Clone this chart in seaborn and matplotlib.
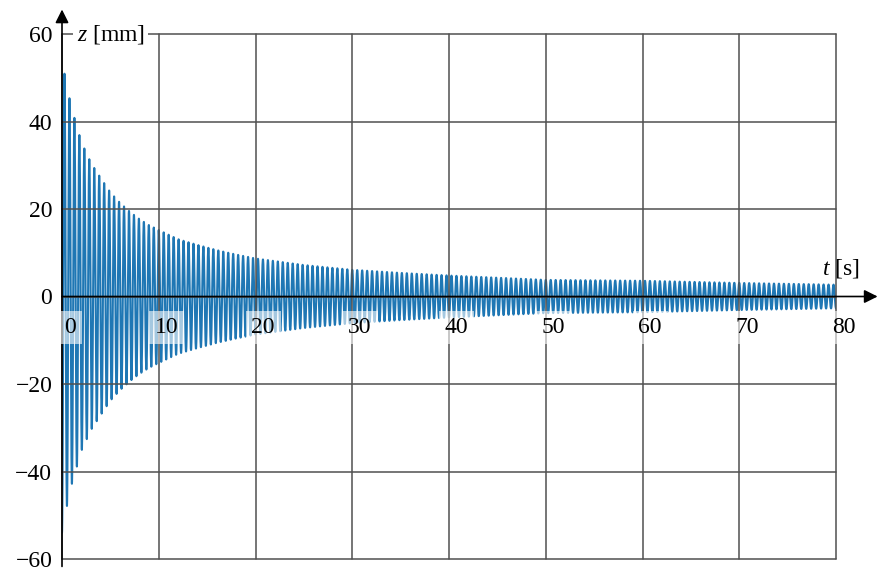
import matplotlib
matplotlib.use("Agg")
import matplotlib.pyplot as plt
import numpy as np
import pandas as pd
import seaborn as sns

# envelope of the damped oscillation
env_t = [0, 0.5, 1, 2, 3, 4, 5, 6, 7, 8, 9, 10, 12, 14, 16, 18, 20,
         25, 30, 35, 40, 50, 60, 70, 80]
env_a = [54, 48, 43, 35.3, 30.5, 27.1, 23.8, 21.4, 19.4, 17.7, 16.3, 15.2,
         13.1, 11.8, 10.6, 9.6, 8.7, 7.2, 6.1, 5.4, 4.8, 3.8, 3.6, 3.1, 2.7]
freq_hz = 1.95  # about 19.5 peaks per 10 s
x_ticks = [0, 10, 20, 30, 40, 50, 60, 70, 80]
y_ticks = [-60, -40, -20, 0, 20, 40, 60]

t = np.linspace(0, 80, 24000)
amp = np.interp(t, env_t, env_a)
data = pd.DataFrame({"t": t, "z": -amp * np.cos(2 * np.pi * freq_hz * t)})

sns.set_theme(style="white")
plt.rcParams["font.family"] = ["Liberation Serif", "DejaVu Serif"]
plt.rcParams["mathtext.fontset"] = "custom"
plt.rcParams["mathtext.rm"] = "Liberation Serif"
plt.rcParams["mathtext.it"] = "Liberation Serif:italic"
plt.rcParams["text.color"] = "black"
plt.rcParams["ytick.labelcolor"] = "black"

fig = plt.figure(figsize=(8.77, 5.72), dpi=100)
ax = fig.add_axes([62 / 877, 13 / 572, 774 / 877, 525 / 572])

sns.lineplot(data=data, x="t", y="z", ax=ax, estimator=None, sort=False,
             color="#1f77b4", lw=1.5, zorder=2)

ax.set_xlim(0, 80)
ax.set_ylim(-60, 60)
ax.set_xlabel("")
ax.set_ylabel("")
for s in ax.spines.values():
    s.set_visible(False)

# grid on top of the curve
ax.set_axisbelow(False)
ax.set_xticks(x_ticks)
ax.set_yticks(y_ticks)
ax.grid(True, color="#505050", lw=1.1, zorder=3)
for gl in ax.get_xgridlines() + ax.get_ygridlines():
    gl.set_clip_on(False)
ax.tick_params(axis="x", length=0, labelbottom=False)
ax.tick_params(axis="y", direction="inout", length=10, width=1,
               color="#444444", labelsize=17, pad=2, labelcolor="black")
ax.set_yticklabels(["\u221260", "\u221240", "\u221220", "0", "20", "40", "60"])

# axes with arrows
ax.annotate("", xy=(84.3, 0), xytext=(0, 0), annotation_clip=False,
            arrowprops=dict(arrowstyle="-|>", color="black", lw=1.2,
                            mutation_scale=20, shrinkA=0, shrinkB=0), zorder=5)
ax.annotate("", xy=(0, 65.6), xytext=(0, -61.7), annotation_clip=False,
            arrowprops=dict(arrowstyle="-|>", color="black", lw=1.2,
                            mutation_scale=20, shrinkA=0, shrinkB=0), zorder=5)

for xt in x_ticks:
    ax.text(xt + 0.8, -7, str(xt), ha="center", va="center", fontsize=17,
            zorder=6, bbox=dict(boxstyle="square,pad=0.25", fc="white",
                                ec="none", alpha=0.6))

ax.text(1.5, 60, r"$z$ [mm]", ha="left", va="center", fontsize=17, zorder=6,
        bbox=dict(boxstyle="square,pad=0.15", fc="white", ec="none"))
ax.text(78.6, 6.5, r"$t$ [s]", ha="left", va="center", fontsize=17, zorder=6,
        clip_on=False)

fig.savefig("out.png", dpi=100)
